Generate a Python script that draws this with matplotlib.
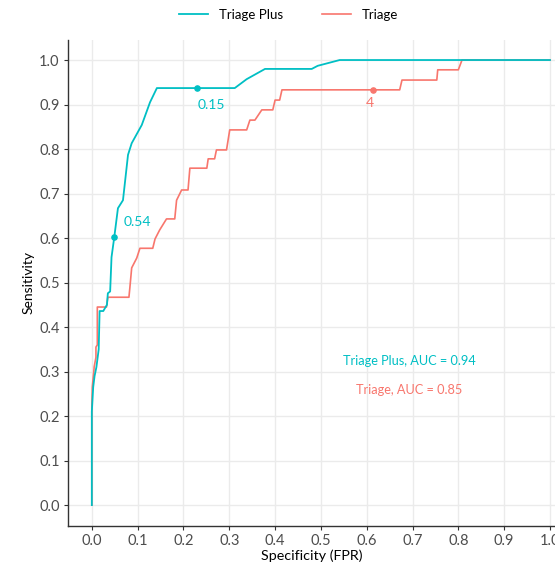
import matplotlib.pyplot as plt

# ROC points
plus_fpr = [0.0, 0.0, 0.003, 0.006, 0.010, 0.015, 0.017, 0.025, 0.033, 0.035, 0.040,
            0.043, 0.049, 0.057, 0.068, 0.079, 0.087, 0.109, 0.127, 0.142, 0.312,
            0.338, 0.378, 0.480, 0.493, 0.541, 1.0]
plus_tpr = [0.0, 0.21, 0.265, 0.29, 0.31, 0.35, 0.436, 0.436, 0.45, 0.476, 0.48,
            0.557, 0.602, 0.667, 0.685, 0.787, 0.813, 0.854, 0.905, 0.937, 0.937,
            0.957, 0.98, 0.98, 0.987, 1.0, 1.0]

tri_fpr = [0.0, 0.0, 0.001, 0.005, 0.005, 0.009, 0.009, 0.012, 0.012, 0.032, 0.035,
           0.081, 0.083, 0.087, 0.098, 0.105, 0.133, 0.138, 0.148, 0.163, 0.181,
           0.185, 0.196, 0.210, 0.214, 0.251, 0.254, 0.268, 0.272, 0.294, 0.301,
           0.338, 0.345, 0.356, 0.371, 0.395, 0.400, 0.410, 0.415, 0.672, 0.677,
           0.753, 0.755, 0.800, 0.808, 1.0]
tri_tpr = [0.0, 0.22, 0.265, 0.308, 0.31, 0.332, 0.355, 0.36, 0.445, 0.445, 0.467,
           0.467, 0.488, 0.533, 0.555, 0.577, 0.577, 0.598, 0.618, 0.643, 0.643,
           0.685, 0.708, 0.708, 0.757, 0.757, 0.778, 0.778, 0.798, 0.798, 0.843,
           0.843, 0.865, 0.865, 0.888, 0.888, 0.91, 0.91, 0.933, 0.933, 0.955,
           0.955, 0.978, 0.978, 1.0, 1.0]

# thresholds marked on the curves
cut_x = [0.049, 0.229]
cut_y = [0.602, 0.937]
cut_lab = ["0.54", "0.15"]
tri_cut_x = [0.614]
tri_cut_y = [0.933]
tri_cut_lab = ["4"]

CYAN = '#00BFC4'
RED = '#F8766D'

plt.rcParams['font.family'] = ['Lato', 'DejaVu Sans']

fig = plt.figure(figsize=(5.55, 5.67), dpi=100)
fig.patch.set_facecolor('white')
ax = fig.add_axes([68/555, 41/567, 487/555, 486/567])

ax.plot(tri_fpr, tri_tpr, color=RED, lw=1.2, label='Triage', zorder=2)
ax.plot(plus_fpr, plus_tpr, color=CYAN, lw=1.3, label='Triage Plus', zorder=3)

ax.scatter(cut_x, cut_y, color=CYAN, s=14, zorder=4)
ax.scatter(tri_cut_x, tri_cut_y, color=RED, s=14, zorder=4)
ax.text(0.10, 0.636, cut_lab[0], color=CYAN, fontsize=10, ha='center', va='center')
ax.text(0.262, 0.899, cut_lab[1], color=CYAN, fontsize=10, ha='center', va='center')
ax.text(0.607, 0.903, tri_cut_lab[0], color=RED, fontsize=10, ha='center', va='center')

ax.text(0.694, 0.324, 'Triage Plus, AUC = 0.94', color=CYAN, fontsize=9.2,
        ha='center', va='center')
ax.text(0.692, 0.258, 'Triage, AUC = 0.85', color=RED, fontsize=9.2,
        ha='center', va='center')

ax.set_xlim(-0.052, 1.011)
ax.set_ylim(-0.047, 1.045)
ax.set_xticks([i / 10 for i in range(11)])
ax.set_yticks([i / 10 for i in range(11)])
ax.set_xticklabels([f'{i/10:.1f}' for i in range(11)])
ax.set_yticklabels([f'{i/10:.1f}' for i in range(11)])

ax.grid(True, color='#EBEBEB', lw=1.0)
ax.set_axisbelow(True)
for s in ['top', 'right']:
    ax.spines[s].set_visible(False)
for s in ['left', 'bottom']:
    ax.spines[s].set_color('#333333')
    ax.spines[s].set_linewidth(1.0)
ax.tick_params(colors='#333333', labelsize=10.5, length=3, width=0.8, pad=3)
for t in ax.get_xticklabels() + ax.get_yticklabels():
    t.set_color('#4D4D4D')

ax.set_xlabel('Specificity (FPR)', fontsize=10.3, labelpad=1)
ax.set_ylabel('Sensitivity', fontsize=10, labelpad=3)

h, l = ax.get_legend_handles_labels()
fig.legend(h[::-1], l[::-1], loc='center', bbox_to_anchor=(0.52, 0.974), ncol=2,
           frameon=False, fontsize=9.5, handlelength=2.2, columnspacing=3.0)

fig.savefig('out.png', dpi=100)
